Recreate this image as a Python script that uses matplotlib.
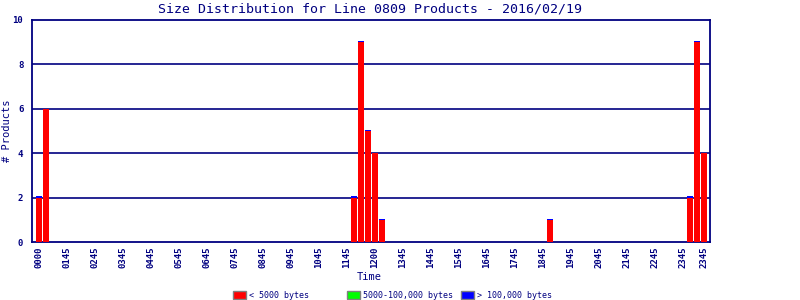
import matplotlib
matplotlib.use("Agg")
import matplotlib.pyplot as plt
from matplotlib.patches import Rectangle
import numpy as np

plt.rcParams['font.family'] = ['DejaVu Sans Mono', 'DejaVu Sans']

title = "Size Distribution for Line 0809 Products - 2016/02/19"
n_bins = 96
# counts per 15-minute bin (index: value)
small_counts = {0: 2, 1: 6, 45: 2, 46: 9, 47: 5, 48: 4, 49: 1, 73: 1, 93: 2, 94: 9, 95: 4}
medium_counts = {}
large_counts = {0: 0.05, 45: 0.05, 46: 0.05, 47: 0.05, 49: 0.05, 73: 0.05, 93: 0.05, 94: 0.05}
tick_bins = [0, 4, 8, 12, 16, 20, 24, 28, 32, 36, 40, 44, 48, 52, 56, 60, 64, 68, 72, 76, 80, 84, 88, 92, 95]
tick_labels = ["0000", "0145", "0245", "0345", "0445", "0545", "0645", "0745", "0845", "0945",
               "1045", "1145", "1200", "1345", "1445", "1545", "1645", "1745", "1845", "1945",
               "2045", "2145", "2245", "2345", "2345"]
legend_labels = ["< 5000 bytes", "5000-100,000 bytes", "> 100,000 bytes"]
colors = ["#ff0000", "#00ff00", "#0000ff"]
navy = "#000080"

x = np.arange(n_bins)
small = np.array([small_counts.get(i, 0) for i in x], dtype=float)
medium = np.array([medium_counts.get(i, 0) for i in x], dtype=float)
large = np.array([large_counts.get(i, 0) for i in x], dtype=float)

fig = plt.figure(figsize=(8, 3), dpi=100)
ax = fig.add_axes([31.7/800, 1-242/300, (710-31.7)/800, (242-20)/300])

w = 6/7
ax.bar(x, small, width=w, color=colors[0], zorder=3, linewidth=0)
ax.bar(x, medium, width=w, bottom=small, color=colors[1], zorder=3, linewidth=0)
ax.bar(x, large, width=w, bottom=small+medium, color=colors[2], zorder=3, linewidth=0)

ax.set_xlim(-1.04, 95.86)
ax.set_ylim(0, 10)
ax.set_yticks([0, 2, 4, 6, 8, 10])
ax.set_yticklabels(["0", "2", "4", "6", "8", "10"], fontsize=6.5, color=navy, fontweight='bold')
ax.set_xticks(tick_bins)
ax.set_xticklabels(tick_labels, rotation=90, fontsize=6.5, color=navy, fontweight='bold')
ax.tick_params(axis='both', length=0)
ax.tick_params(axis='x', pad=3)
ax.tick_params(axis='y', pad=6)
for yv in [2, 4, 6, 8]:
    ax.axhline(yv, color=navy, linewidth=1.2, zorder=1)
for s in ax.spines.values():
    s.set_color(navy)
    s.set_linewidth(1.3)

fig.text(370.5/800, 1-8.5/300, title, fontsize=9.5, color=navy, ha='center', va='center')
fig.text(369/800, 1-277/300, "Time", fontsize=7.5, color=navy, ha='center', va='center')
fig.text(7.5/800, 1-131/300, "# Products", fontsize=7.5, color=navy, ha='center', va='center', rotation=90)

# legend
box_x = [233, 347, 461]
for bx, lab, col in zip(box_x, legend_labels, colors):
    fig.patches.append(Rectangle((bx/800, 1-299/300), 13/800, 8/300, transform=fig.transFigure,
                                 facecolor=col, edgecolor="#808080", linewidth=1))
    fig.text((bx+16)/800, 1-295.5/300, lab, fontsize=6, color=navy, va='center', ha='left')

fig.savefig("out.png", dpi=100)
